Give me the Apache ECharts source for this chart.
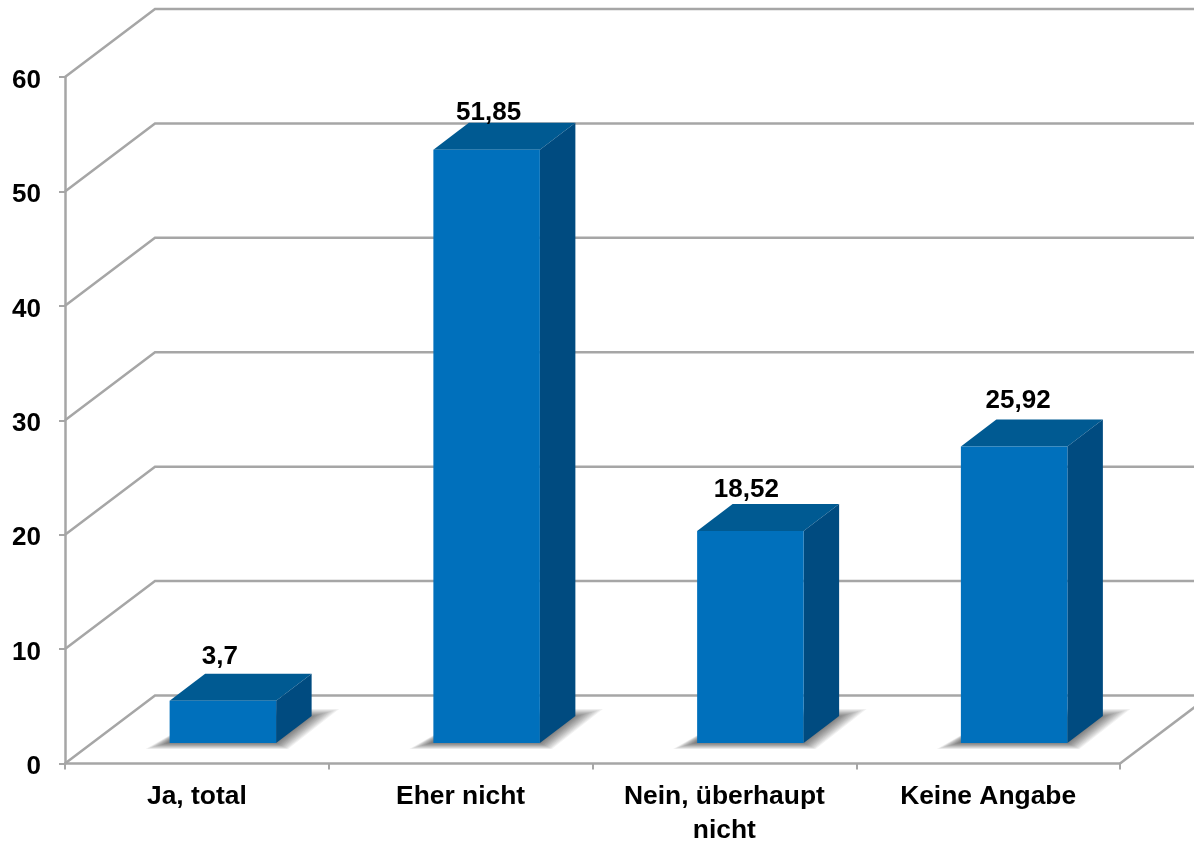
<!DOCTYPE html>
<html>
<head>
<meta charset="utf-8">
<style>html,body{margin:0;padding:0;background:#fff}#c{width:1194px;height:841px}</style>
<script src="https://cdn.jsdelivr.net/npm/echarts@6/dist/echarts.min.js"></script>
</head>
<body>
<div id="c"></div>
<script>
const categories = ['Ja, total', 'Eher nicht', 'Nein, überhaupt\nnicht', 'Keine Angabe'];
const values = [3.7, 51.85, 18.52, 25.92];
const valueLabels = ['3,7', '51,85', '18,52', '25,92'];
const yTicks = [0, 10, 20, 30, 40, 50, 60];

// 3D projection and look, in pixels
const WALL = [90, -68];        // floor depth: front plane to back wall
const BAR_SHIFT = [26, -20.5]; // bar front face relative to the front plane
const BAR_WIDTH = 106.5;
const BAR_DEPTH = [35.5, -27];
const LABEL_NUDGE = [[-3, -44], [2, -37], [-4, -41], [4, -46]];
const SHADOW_LAYERS = 12;
const AXIS = '#a6a6a6', FRONT = '#0070bc', TOP = '#005a92', SIDE = '#004b80';
const FONT = '"Liberation Sans", Arial, sans-serif';

function poly(points, style) {
  return { type: 'polygon', shape: { points }, style };
}

// Soft floor shadow: stacked translucent polygons shrinking from a wide outline to the bar footprint
function shadowLayers(l, r, b) {
  const outer = [[l - 24, b + 6], [r + 12, b + 6], [r + 63, b - 34], [l + 46, b - 34]];
  const inner = [[l - 2, b], [r, b], [r + 34, b - 26], [l + 30, b - 26]];
  const out = [];
  for (let k = 0; k < SHADOW_LAYERS; k++) {
    const f = k / (SHADOW_LAYERS - 1);
    out.push(poly(
      outer.map((p, j) => [p[0] + (inner[j][0] - p[0]) * f, p[1] + (inner[j][1] - p[1]) * f]),
      { fill: 'rgba(0,0,0,0.055)' }
    ));
  }
  return out;
}

const chart = echarts.init(document.getElementById('c'), null, { renderer: 'canvas' });
chart.setOption({
  animation: false,
  backgroundColor: '#fff',
  grid: { left: 65, right: 74, top: 77, bottom: 77.5, outerBoundsMode: 'none' },
  xAxis: {
    type: 'category',
    data: categories,
    axisLine: { lineStyle: { color: AXIS, width: 2.5 } },
    axisTick: { show: true, alignWithLabel: false, length: 6, lineStyle: { color: AXIS, width: 2 } },
    axisLabel: { color: '#000', fontFamily: FONT, fontWeight: 'bold', fontSize: 26.4, lineHeight: 34, margin: 16, interval: 0 }
  },
  yAxis: {
    type: 'value',
    min: 0, max: 60, interval: 10,
    splitLine: { show: false },
    axisLine: { show: true, lineStyle: { color: AXIS, width: 2.5 } },
    axisTick: { show: true, length: 6, lineStyle: { color: AXIS, width: 2 } },
    axisLabel: {
      color: '#000', fontFamily: FONT, fontWeight: 'bold', fontSize: 26, margin: 24,
      verticalAlign: 'top', lineHeight: 7
    }
  },
  series: [
    {
      type: 'custom',
      z: 1,
      silent: true,
      clip: false,
      data: yTicks.map(t => [0, t]),
      encode: { x: 0, y: 1 },
      renderItem(params, api) {
        const cs = params.coordSys;
        const y = api.coord([0, api.value(1)])[1];
        const x0 = cs.x, x1 = cs.x + cs.width;
        const line = { stroke: AXIS, lineWidth: 2.5, fill: null };
        const children = [{
          type: 'polyline',
          shape: { points: [[x0, y], [x0 + WALL[0], y + WALL[1]], [x1 + WALL[0], y + WALL[1]]] },
          style: line
        }];
        if (api.value(1) === 0) {
          children.push({
            type: 'line',
            shape: { x1: x1, y1: y, x2: x1 + WALL[0], y2: y + WALL[1] },
            style: line
          });
        }
        return { type: 'group', children };
      }
    },
    {
      type: 'custom',
      z: 2,
      silent: true,
      clip: false,
      data: values.map((v, i) => [i, v]),
      encode: { x: 0, y: 1 },
      renderItem(params, api) {
        const i = params.dataIndex;
        const topPt = api.coord([api.value(0), api.value(1)]);
        const basePt = api.coord([api.value(0), 0]);
        const l = topPt[0] + BAR_SHIFT[0] - BAR_WIDTH / 2;
        const r = l + BAR_WIDTH;
        const t = topPt[1] + BAR_SHIFT[1];
        const b = basePt[1] + BAR_SHIFT[1];
        const dx = BAR_DEPTH[0], dy = BAR_DEPTH[1];
        return {
          type: 'group',
          children: shadowLayers(l, r, b).concat([
            poly([[l, t], [r, t], [r + dx, t + dy], [l + dx, t + dy]], { fill: TOP }),
            poly([[r, t], [r + dx, t + dy], [r + dx, b + dy], [r, b]], { fill: SIDE }),
            poly([[l, t], [r, t], [r, b], [l, b]], { fill: FRONT }),
            {
              type: 'text',
              z2: 10,
              style: {
                x: l + BAR_WIDTH / 2 + LABEL_NUDGE[i][0],
                y: t + LABEL_NUDGE[i][1],
                text: valueLabels[i],
                align: 'center',
                verticalAlign: 'middle',
                fill: '#000',
                font: 'bold 26px ' + FONT
              }
            }
          ])
        };
      }
    }
  ]
});
</script>
</body>
</html>
